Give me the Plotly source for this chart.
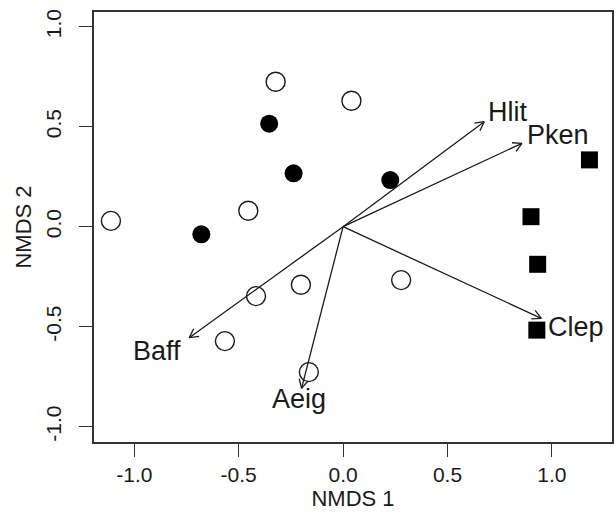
import math
import plotly.graph_objects as go

# ---- data ----
open_x = [-0.323, 0.040, -0.454, -1.112, -0.202, -0.417, -0.566, -0.164, 0.278]
open_y = [0.725, 0.630, 0.080, 0.029, -0.290, -0.347, -0.572, -0.727, -0.267]

filled_x = [-0.354, -0.237, 0.226, -0.679]
filled_y = [0.515, 0.267, 0.233, -0.038]

square_x = [1.180, 0.900, 0.932, 0.928]
square_y = [0.334, 0.050, -0.188, -0.517]

species = ["Hlit", "Pken", "Clep", "Baff", "Aeig"]
vec_x = [0.676, 0.857, 0.949, -0.737, -0.199]
vec_y = [0.525, 0.417, -0.458, -0.555, -0.808]
lab_x = [0.789, 1.029, 1.117, -0.893, -0.212]
lab_y = [0.575, 0.459, -0.503, -0.620, -0.863]

tick_vals = [-1.0, -0.5, 0.0, 0.5, 1.0]
tick_text = ["-1.0", "-0.5", "0.0", "0.5", "1.0"]

# ---- layout geometry ----
W, H = 616, 523
ML, MR, MT, MB = 94, 2, 12, 81
XR = [-1.193, 1.288]
YR = [-1.0765, 1.0735]
pw = W - ML - MR
ph = H - MT - MB
sx = pw / (XR[1] - XR[0])  # px per unit
sy = ph / (YR[1] - YR[0])

FONT = "Liberation Sans, Arial, Helvetica, sans-serif"
INK = "#1a1a1a"

fig = go.Figure()

# arrows: shafts + V heads (head geometry computed in pixel space)
ax_, ay_ = [], []
head_len, head_ang = 10.0, math.radians(28)
for vx, vy in zip(vec_x, vec_y):
    ax_ += [0, vx, None]
    ay_ += [0, vy, None]
    dxp, dyp = vx * sx, vy * sy
    L = math.hypot(dxp, dyp)
    ux, uy = dxp / L, dyp / L
    for s in (1, -1):
        c, sn = math.cos(s * head_ang), math.sin(s * head_ang)
        rx = -(ux * c - uy * sn)
        ry = -(ux * sn + uy * c)
        ax_ += [vx, vx + rx * head_len / sx, None]
        ay_ += [vy, vy + ry * head_len / sy, None]

fig.add_trace(go.Scatter(x=ax_, y=ay_, mode="lines",
                         line=dict(color=INK, width=1.3),
                         hoverinfo="skip", showlegend=False))

fig.add_trace(go.Scatter(x=open_x, y=open_y, mode="markers",
                         marker=dict(symbol="circle-open", size=19,
                                     color=INK, line=dict(width=1.4, color=INK)),
                         showlegend=False))
fig.add_trace(go.Scatter(x=filled_x, y=filled_y, mode="markers",
                         marker=dict(symbol="circle", size=18, color="black"),
                         showlegend=False))
fig.add_trace(go.Scatter(x=square_x, y=square_y, mode="markers",
                         marker=dict(symbol="square", size=17, color="black"),
                         showlegend=False))

for name, lx, ly in zip(species, lab_x, lab_y):
    fig.add_annotation(x=lx, y=ly, text=name, showarrow=False,
                       font=dict(family=FONT, size=27, color=INK),
                       xanchor="center", yanchor="middle")

axis_common = dict(
    showline=True, linecolor="#333", linewidth=1.5, mirror=True,
    showgrid=False, zeroline=False,
    ticks="outside", ticklen=13, tickwidth=1.3, tickcolor="#333",
    tickvals=tick_vals, ticktext=tick_text,
    tickfont=dict(family=FONT, size=21, color=INK),
)

fig.update_xaxes(range=XR, **axis_common,
                 title=dict(text="NMDS 1", font=dict(family=FONT, size=22, color=INK),
                            standoff=0))
fig.update_yaxes(range=YR, tickangle=-90, ticklabelstandoff=10, **axis_common,
                 title=dict(text="NMDS 2", font=dict(family=FONT, size=22, color=INK),
                            standoff=4))

fig.update_layout(
    width=W, height=H,
    margin=dict(l=ML, r=MR, t=MT, b=MB, pad=0),
    plot_bgcolor="white", paper_bgcolor="white",
    showlegend=False,
)

fig.write_html("out.html",
               config={"displayModeBar": False},
               post_script="document.body.style.margin='0';document.body.style.padding='0';")
